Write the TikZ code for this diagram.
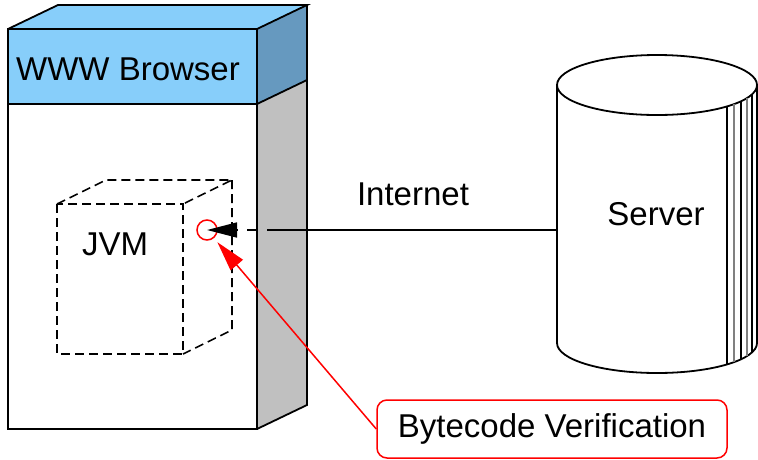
\documentclass[tikz,border=0pt]{standalone}
\usepackage{fontspec}
\setmainfont{Liberation Sans}
\usetikzlibrary{arrows.meta,calc}
\definecolor{headblue}{RGB}{135,206,250}
\definecolor{sideblue}{RGB}{102,153,191}
\definecolor{sidegray}{RGB}{192,192,192}
\begin{document}
\begin{tikzpicture}[x=1pt,y=-1pt,
  edge/.style={line width=1.8pt, line join=miter},
  txt/.style={font=\fontsize{33pt}{40pt}\selectfont, inner sep=0pt, anchor=base},
  jvmline/.style={line width=1.6pt, dash pattern=on 9pt off 5pt},
  redline/.style={red, line width=1.5pt},
  bigtip/.style={-{Triangle[length=30pt,width=16pt]}}]
\useasboundingbox (0,0) rectangle (758,459);

% browser block: front, top and side faces
\fill[headblue] (8,29) rectangle (257,104);
\fill[white] (8,104) rectangle (257,429);
\fill[headblue] (8,29) -- (58,5) -- (307,5) -- (257,29) -- cycle;
\fill[sideblue] (257,29) -- (307,5) -- (307,80) -- (257,104) -- cycle;
\fill[sidegray] (257,104) -- (307,80) -- (307,405) -- (257,429) -- cycle;
\draw[edge] (8,29) rectangle (257,429);
\draw[edge] (8,104) -- (257,104) -- (307,80);
\draw[edge] (8,29) -- (58,5) -- (307,5) -- (257,29);
\draw[edge] (307,5) -- (307,405) -- (257,429);

% dashed JVM cube
\draw[jvmline] (57,204) rectangle (183,354);
\draw[jvmline] (57,204) -- (106,180) -- (232,180) -- (183,204);
\draw[jvmline] (232,180) -- (232,330) -- (183,354);

% server cylinder
\draw[edge, fill=white] (557,85) -- (557,343)
  arc[start angle=180, end angle=360, x radius=100pt, y radius=30pt] -- (757,85);
\draw[edge, fill=white] (657,85) ellipse [x radius=100pt, y radius=30pt];
\foreach \sx/\sc in {727/black,734/gray,741/black,747/gray,752/black}{
  \pgfmathsetmacro{\dy}{30*sqrt(1-((\sx-657)/100)^2)}
  \draw[\sc, line width=1.1pt] (\sx,85+\dy) -- (\sx,343+\dy);
}

% labels
\node[txt] (browser) at (128,80) {WWW Browser};
\node[txt] (jvm) at (115,255) {JVM};
\node[txt] (internet) at (413,205) {Internet};
\node[txt] (server) at (656,225) {Server};
\node[circle, draw=red, line width=1.5pt, minimum size=20pt, inner sep=0pt] (vp) at (207,230) {};
\node[draw=red, line width=1.5pt, rounded corners=10pt, minimum width=350pt,
      minimum height=58pt, inner sep=0pt, font=\fontsize{33pt}{40pt}\selectfont]
      (verify) at (552,429) {Bytecode Verification};

% connectors
\coordinate (srv) at (557,230);
\coordinate (jn) at (277,230);
\draw[line width=1.6pt] (srv) -- (jn);
\draw[line width=1.6pt, dash pattern=on 10pt off 10pt, -{Triangle[length=30pt,width=15pt]}] (jn) -- (vp.center);
\draw[redline, bigtip] (verify.west) -- ($(vp.center)!16pt!(verify.west)$);
\end{tikzpicture}
\end{document}
